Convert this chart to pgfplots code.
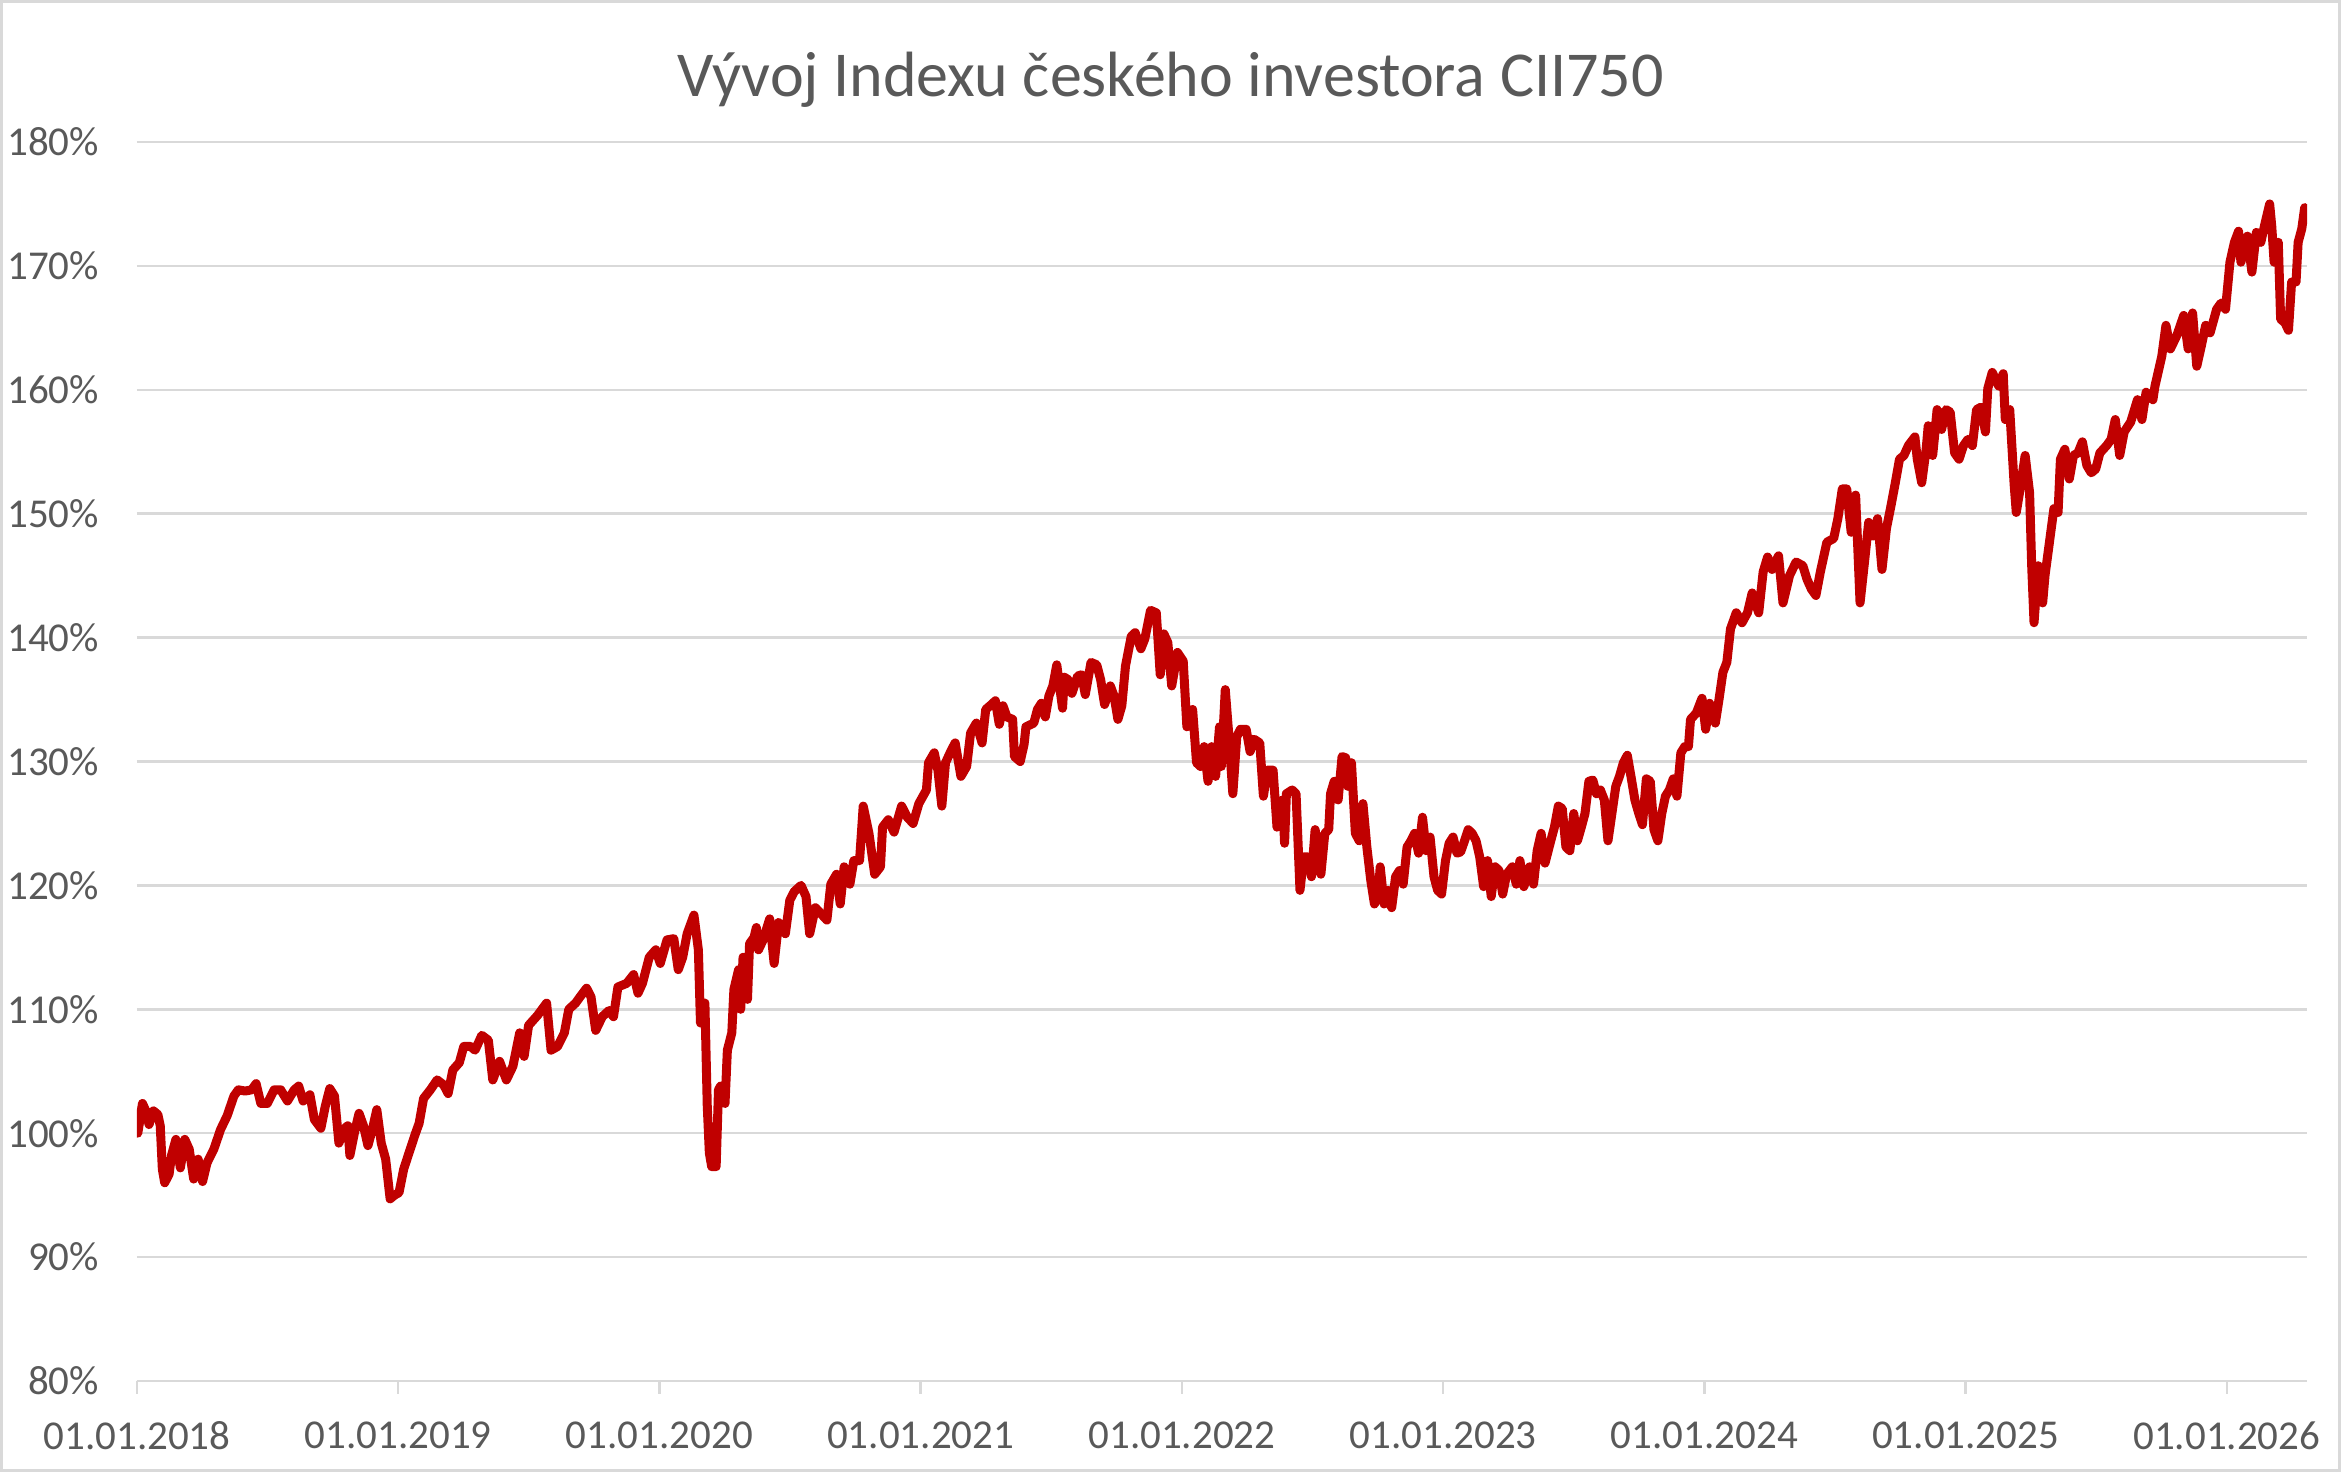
\documentclass[border=0pt]{standalone}
\usepackage{fontspec}
\setmainfont{Carlito}
\usepackage{pgfplots}
\pgfplotsset{compat=1.18}
\definecolor{linered}{HTML}{C00000}
\definecolor{gridgray}{HTML}{D9D9D9}
\definecolor{labelgray}{HTML}{595959}
\begin{document}
\begin{tikzpicture}
\useasboundingbox (0,0) rectangle (702.3pt,441.6pt);
\fill[white] (0,0) rectangle (702.3pt,441.6pt);
\draw[gridgray, line width=0.9pt] (0.45pt,0.45pt) rectangle (701.85pt,441.15pt);
\node[anchor=base, text=labelgray, font=\fontsize{19.2pt}{23pt}\selectfont] at (351.15pt,412.5pt) {Vývoj Indexu českého investora CII750};
\begin{axis}[
  at={(41.1pt,27.3pt)}, anchor=south west,
  scale only axis, width=651pt, height=371.7pt,
  xmin=2018, xmax=2026.307, ymin=80, ymax=180,
  axis x line=bottom, axis y line=left,
  axis line style={-},
  x axis line style={draw=gridgray, line width=0.75pt},
  y axis line style={draw=none},
  ymajorgrids, grid style={gridgray, line width=0.75pt},
  xtick={2018,2019,2020,2021,2022,2023,2024,2025,2026},
  xticklabels={01.01.2018,01.01.2019,01.01.2020,01.01.2021,01.01.2022,01.01.2023,01.01.2024,01.01.2025,01.01.2026},
  ytick={80,90,100,110,120,130,140,150,160,170,180},
  yticklabels={80\%,90\%,100\%,110\%,120\%,130\%,140\%,150\%,160\%,170\%,180\%},
  tick align=outside, major tick length=3.9pt,
  xtick style={draw=gridgray, line width=0.75pt},
  ytick style={draw=none},
  xticklabel style={text=labelgray, font=\fontsize{12.3pt}{14pt}\selectfont, anchor=north, inner sep=0pt, yshift=-8.1pt},
  yticklabel style={text=labelgray, font=\fontsize{12.3pt}{14pt}\selectfont, anchor=east, inner sep=0pt, xshift=-7.3pt},
]
\addplot[linered, line width=2.7pt, line join=round, line cap=round] coordinates {
(2018.003,100.0)(2018.021,102.4)(2018.038,101.6)(2018.046,100.7)(2018.063,101.8)(2018.080,101.5)(2018.089,100.6)(2018.097,97.1)(2018.106,96.0)(2018.123,96.7)(2018.132,98.2)(2018.149,99.5)(2018.166,97.2)(2018.183,99.5)(2018.200,98.7)(2018.217,96.3)(2018.234,97.9)(2018.251,96.1)(2018.268,97.6)(2018.294,98.7)(2018.320,100.3)(2018.345,101.4)(2018.371,103.0)(2018.388,103.5)(2018.414,103.4)(2018.439,103.5)(2018.456,104.0)(2018.474,102.4)(2018.499,102.4)(2018.525,103.5)(2018.550,103.5)(2018.576,102.6)(2018.602,103.5)(2018.619,103.8)(2018.636,102.6)(2018.662,103.1)(2018.679,101.1)(2018.704,100.4)(2018.721,102.2)(2018.738,103.6)(2018.756,103.0)(2018.773,99.2)(2018.790,100.3)(2018.807,100.6)(2018.815,98.2)(2018.832,100.0)(2018.850,101.6)(2018.867,100.6)(2018.884,99.0)(2018.901,100.3)(2018.918,101.9)(2018.935,99.2)(2018.952,97.9)(2018.969,94.7)(2018.986,95.0)
(2019.003,95.2)(2019.021,97.1)(2019.038,98.2)(2019.063,99.8)(2019.080,100.8)(2019.097,102.8)(2019.123,103.5)(2019.149,104.3)(2019.174,103.9)(2019.191,103.2)(2019.209,105.1)(2019.234,105.7)(2019.251,107.0)(2019.277,107.0)(2019.294,106.7)(2019.320,107.9)(2019.345,107.5)(2019.362,104.3)(2019.388,105.8)(2019.414,104.3)(2019.439,105.4)(2019.465,108.1)(2019.482,106.2)(2019.499,108.7)(2019.533,109.5)(2019.568,110.5)(2019.585,106.7)(2019.610,107.0)(2019.636,108.1)(2019.653,110.0)(2019.679,110.5)(2019.696,111.0)(2019.721,111.7)(2019.738,111.0)(2019.756,108.3)(2019.781,109.4)(2019.807,109.9)(2019.824,109.4)(2019.841,111.8)(2019.875,112.1)(2019.901,112.8)(2019.918,111.3)(2019.935,112.1)(2019.961,114.2)(2019.986,114.8)
(2020.003,113.7)(2020.029,115.6)(2020.055,115.7)(2020.072,113.2)(2020.089,114.2)(2020.106,116.1)(2020.132,117.6)(2020.149,114.8)(2020.157,108.9)(2020.174,110.5)(2020.183,102.2)(2020.191,98.4)(2020.200,97.3)(2020.209,97.3)(2020.217,97.3)(2020.226,103.5)(2020.234,103.8)(2020.251,102.4)(2020.260,106.7)(2020.277,108.1)(2020.285,111.6)(2020.303,113.2)(2020.311,110.0)(2020.320,114.2)(2020.337,110.8)(2020.345,115.3)(2020.362,115.8)(2020.371,116.6)(2020.379,114.8)(2020.397,115.6)(2020.422,117.3)(2020.439,113.7)(2020.456,117.0)(2020.482,116.1)(2020.499,118.8)(2020.516,119.5)(2020.542,120.0)
(2020.561,119.1)(2020.575,116.1)(2020.597,118.2)(2020.619,117.7)(2020.641,117.2)(2020.656,120.1)(2020.678,120.9)(2020.692,118.5)(2020.707,121.5)(2020.729,120.1)(2020.744,122.0)(2020.766,122.0)(2020.780,126.4)(2020.802,124.2)(2020.824,120.9)(2020.846,121.5)(2020.854,124.7)(2020.876,125.3)(2020.898,124.3)(2020.927,126.4)(2020.949,125.5)(2020.971,125.0)(2020.993,126.6)
(2021.022,127.7)(2021.030,129.9)(2021.052,130.7)(2021.066,129.3)(2021.081,126.4)(2021.095,129.9)(2021.117,130.9)(2021.132,131.5)(2021.154,128.8)(2021.176,129.6)(2021.191,132.3)(2021.213,133.1)(2021.235,131.5)(2021.249,134.2)(2021.271,134.6)(2021.286,134.9)(2021.301,133.0)(2021.315,134.5)(2021.330,133.6)(2021.352,133.4)(2021.359,130.4)(2021.381,130.0)(2021.396,131.4)(2021.403,132.8)(2021.433,133.1)(2021.447,134.2)(2021.462,134.7)(2021.477,133.6)(2021.491,135.3)(2021.506,136.1)(2021.521,137.8)(2021.543,134.3)(2021.550,136.8)(2021.565,136.6)(2021.579,135.5)(2021.601,136.9)(2021.616,137.0)(2021.630,135.4)(2021.652,138.0)(2021.674,137.8)(2021.689,136.6)(2021.704,134.6)(2021.726,136.1)(2021.740,135.3)(2021.755,133.4)(2021.770,134.5)(2021.784,137.7)(2021.806,140.1)(2021.821,140.4)(2021.843,139.1)(2021.858,139.9)
(2021.880,142.2)(2021.902,142.0)(2021.917,137.0)(2021.931,140.3)(2021.946,139.6)(2021.961,136.1)(2021.983,138.8)(2022.005,138.1)(2022.019,132.8)(2022.041,134.2)(2022.056,129.9)(2022.071,129.6)(2022.085,131.2)(2022.100,128.4)(2022.114,131.2)(2022.129,128.8)(2022.144,132.8)(2022.151,129.6)(2022.166,135.8)(2022.180,132.0)(2022.195,127.4)(2022.210,132.0)(2022.224,132.6)(2022.246,132.6)(2022.261,130.8)(2022.276,131.8)(2022.298,131.5)(2022.312,127.2)(2022.327,129.3)(2022.349,129.3)(2022.364,124.7)(2022.386,126.9)(2022.393,123.4)(2022.400,127.4)(2022.422,127.7)(2022.437,127.4)(2022.452,119.6)(2022.466,122.3)(2022.481,122.3)(2022.496,120.7)(2022.510,124.5)(2022.532,120.9)(2022.547,124.2)(2022.562,124.5)(2022.569,127.4)(2022.583,128.4)(2022.598,126.9)(2022.613,130.4)(2022.627,130.3)(2022.635,128.0)(2022.649,129.9)(2022.664,124.2)(2022.679,123.6)(2022.693,126.6)(2022.708,123.1)(2022.723,120.4)(2022.737,118.5)(2022.752,119.3)(2022.759,121.5)(2022.774,118.5)(2022.789,119.6)(2022.803,118.2)(2022.818,120.7)(2022.833,121.2)(2022.847,120.1)(2022.862,123.1)(2022.877,123.6)(2022.891,124.2)(2022.906,122.6)(2022.921,125.5)(2022.935,122.8)(2022.950,123.9)(2022.965,120.7)(2022.979,119.6)(2022.994,119.3)
(2023.009,122.0)(2023.023,123.4)(2023.038,123.9)(2023.053,122.6)(2023.067,122.7)(2023.082,123.6)(2023.096,124.5)(2023.111,124.2)(2023.126,123.6)(2023.140,122.3)(2023.155,119.9)(2023.170,122.0)(2023.184,119.1)(2023.199,121.5)(2023.214,121.2)(2023.228,119.3)(2023.243,120.9)(2023.265,121.5)(2023.280,120.1)(2023.294,122.0)(2023.309,119.9)(2023.331,121.5)(2023.346,120.1)(2023.360,122.8)(2023.375,124.2)(2023.390,121.8)(2023.412,123.6)(2023.426,124.7)(2023.441,126.4)(2023.456,126.2)(2023.470,123.1)(2023.485,122.8)(2023.500,125.8)(2023.514,123.6)(2023.529,124.7)(2023.543,125.8)(2023.558,128.4)(2023.573,128.5)(2023.587,127.4)(2023.602,127.7)(2023.617,126.9)(2023.631,123.6)(2023.646,125.8)(2023.661,128.0)(2023.675,128.8)(2023.690,129.9)(2023.705,130.5)(2023.719,128.8)(2023.734,126.9)(2023.749,125.8)(2023.763,124.9)(2023.778,128.6)(2023.793,128.4)(2023.807,124.5)(2023.822,123.6)(2023.837,125.8)(2023.851,127.2)(2023.866,127.7)(2023.881,128.6)(2023.895,127.2)(2023.910,130.7)(2023.925,131.2)(2023.939,131.2)(2023.947,133.4)(2023.969,133.9)(2023.991,135.1)
(2024.005,132.6)(2024.020,134.7)(2024.042,133.1)(2024.056,135.0)(2024.071,137.2)(2024.086,138.0)(2024.100,140.7)(2024.122,142.0)(2024.144,141.2)(2024.165,142.0)(2024.183,143.6)(2024.208,142.0)(2024.225,145.3)(2024.242,146.5)(2024.259,145.5)(2024.284,146.6)(2024.301,142.8)(2024.326,145.0)(2024.351,146.1)(2024.377,145.8)(2024.393,144.7)(2024.410,143.9)(2024.427,143.4)(2024.444,145.3)(2024.469,147.7)(2024.495,148.0)(2024.511,149.6)(2024.528,152.0)(2024.545,152.0)(2024.562,148.5)(2024.579,151.5)(2024.596,142.8)(2024.613,146.1)(2024.629,149.3)(2024.646,148.2)(2024.663,149.6)(2024.680,145.5)(2024.697,148.8)(2024.714,150.6)(2024.731,152.5)(2024.747,154.4)(2024.764,154.7)(2024.781,155.5)(2024.806,156.2)(2024.815,154.4)(2024.832,152.5)(2024.849,155.2)(2024.857,157.1)(2024.874,154.7)(2024.891,158.4)(2024.908,156.8)(2024.925,158.4)(2024.941,158.2)(2024.958,154.9)(2024.975,154.4)(2024.992,155.5)
(2025.009,156.0)(2025.026,155.5)(2025.042,158.4)(2025.059,158.6)(2025.076,156.6)(2025.085,160.1)(2025.102,161.4)(2025.127,160.3)(2025.144,161.3)(2025.152,157.6)(2025.169,158.4)(2025.186,152.3)(2025.194,150.1)(2025.211,152.3)(2025.228,154.7)(2025.245,151.7)(2025.253,145.8)(2025.262,141.2)(2025.278,145.8)(2025.295,142.8)(2025.304,145.0)(2025.321,147.7)(2025.338,150.4)(2025.354,150.1)(2025.363,154.4)(2025.380,155.2)(2025.397,152.8)(2025.413,154.7)(2025.430,154.9)(2025.447,155.8)(2025.464,153.9)(2025.481,153.3)(2025.498,153.6)(2025.514,154.9)(2025.540,155.5)(2025.557,156.0)(2025.573,157.6)(2025.590,154.7)(2025.607,156.6)(2025.632,157.4)(2025.658,159.2)(2025.675,157.6)(2025.691,159.8)(2025.717,159.2)(2025.725,160.3)(2025.751,162.7)(2025.767,165.2)(2025.784,163.3)(2025.809,164.4)(2025.835,166.0)(2025.852,163.3)(2025.869,166.2)(2025.885,161.9)(2025.902,163.5)(2025.919,165.2)(2025.936,164.6)(2025.961,166.5)(2025.978,167.0)(2025.995,166.5)
(2026.012,170.3)(2026.029,171.9)(2026.045,172.8)(2026.054,170.3)(2026.079,172.4)(2026.096,169.5)(2026.113,172.7)(2026.130,171.9)(2026.147,173.5)(2026.164,175.0)(2026.172,173.2)(2026.181,170.3)(2026.197,171.9)(2026.206,165.7)(2026.223,165.4)(2026.236,164.8)(2026.248,168.7)(2026.265,168.7)(2026.273,171.9)(2026.287,173.0)(2026.298,174.7)
};
\end{axis}
\end{tikzpicture}
\end{document}
